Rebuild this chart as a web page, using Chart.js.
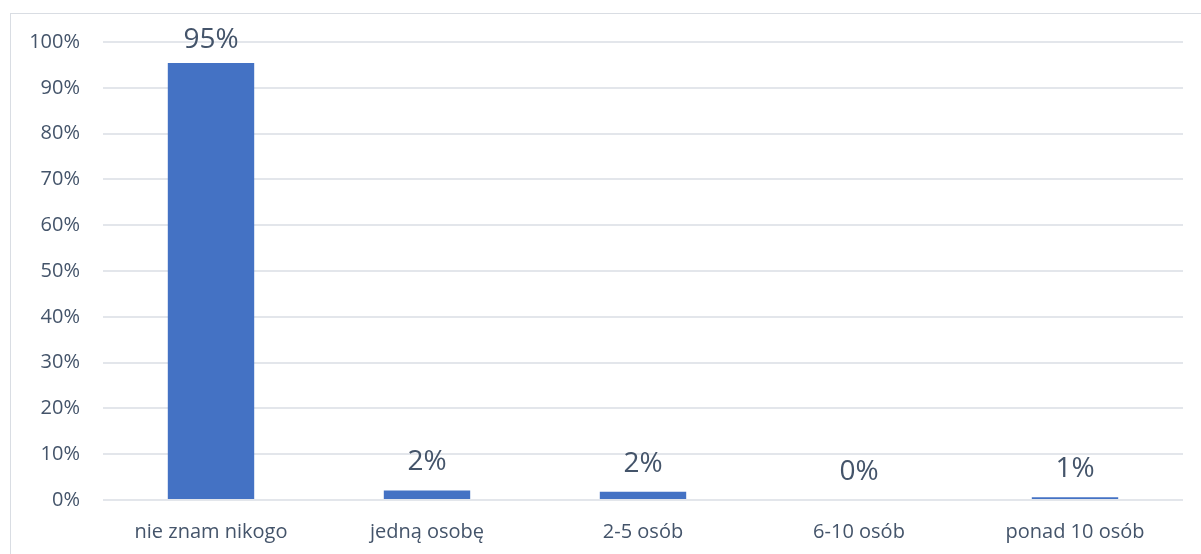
<!DOCTYPE html>
<html>
<head>
<meta charset="utf-8">
<script src="https://cdn.jsdelivr.net/npm/chart.js@4"></script>
<style>
  html, body { margin: 0; padding: 0; background: #fff; overflow: hidden; }
  #frame { position: absolute; left: 10px; top: 13px; width: 1300px; height: 700px; border: 1px solid #D9DDE3; }
  #wrap { position: absolute; left: 0; top: 0; width: 1201px; height: 554px; }
</style>
</head>
<body>
<div id="frame"></div>
<div id="wrap"><canvas id="c" width="1201" height="554"></canvas></div>
<script>
const categories = ["nie znam nikogo", "jedną osobę", "2-5 osób", "6-10 osób", "ponad 10 osób"];
const values = [95.4, 2.1, 1.8, 0, 0.6];
const valueLabels = ["95%", "2%", "2%", "0%", "1%"];
const yTicks = [0, 10, 20, 30, 40, 50, 60, 70, 80, 90, 100];

const textColor = "#44546A";
const fontFamily = "'Open Sans', sans-serif";

const labelPlugin = {
  id: "valueLabels",
  afterDatasetsDraw(chart) {
    const ctx = chart.ctx;
    const meta = chart.getDatasetMeta(0);
    ctx.save();
    ctx.fillStyle = textColor;
    ctx.font = "28px " + fontFamily;
    ctx.textAlign = "center";
    ctx.textBaseline = "alphabetic";
    meta.data.forEach((bar, i) => {
      const y = Math.max(bar.y - 20, chart.chartArea.top + 6);
      ctx.fillText(valueLabels[i], bar.x, y);
    });
    ctx.restore();
  }
};

new Chart(document.getElementById("c"), {
  type: "bar",
  data: {
    labels: categories,
    datasets: [{
      data: values,
      backgroundColor: "#4472C4",
      borderWidth: 0,
      barPercentage: 0.4,
      categoryPercentage: 1.0
    }]
  },
  options: {
    responsive: false,
    animation: false,
    devicePixelRatio: 1,
    layout: { padding: { left: 0, top: 42, right: 18, bottom: 0 } },
    plugins: { legend: { display: false }, tooltip: { enabled: false } },
    scales: {
      x: {
        grid: { display: false, drawTicks: false },
        border: { display: false },
        ticks: { color: textColor, font: { family: fontFamily, size: 20 }, padding: 20, maxRotation: 0 },
        afterFit(s) { s.height = 54; }
      },
      y: {
        min: 0, max: 100,
        afterBuildTicks(s) { s.ticks = yTicks.map(v => ({ value: v })); },
        grid: { color: "#E3E6EB", lineWidth: 2, drawTicks: false },
        border: { display: false },
        ticks: {
          color: textColor,
          font: { family: fontFamily, size: 20 },
          padding: 23,
          callback: v => v + "%"
        },
        afterFit(s) { s.width = 103; }
      }
    }
  },
  plugins: [labelPlugin]
});
</script>
</body>
</html>
